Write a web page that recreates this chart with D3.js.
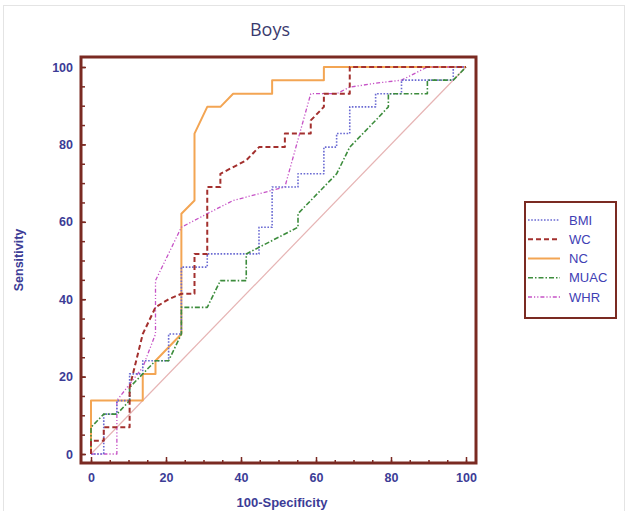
<!DOCTYPE html>
<html lang="en">
  <head>
    <meta charset="utf-8">
    <title>Boys ROC</title>
    <style>
      body { margin: 0; background: #fff; }
      svg { display: block; }
      .tick text { font-family: Arial, "Liberation Sans", sans-serif; font-weight: bold; font-size: 12.5px; fill: #3c3c96; }
      .tick line { stroke: #7a2a22; stroke-width: 1.5; }
    </style>
  </head>
  <body>
    <script src="https://d3js.org/d3.v7.min.js"></script>
    <script>
      // ROC points: 100-Specificity (x) and Sensitivity (y)
      const seriesNames = ["BMI", "WC", "NC", "MUAC", "WHR"];

      const bmiX = [0, 3.4, 3.4, 6.9, 6.9, 10.3, 10.3, 13.8, 13.8, 20.7, 20.7, 24.1, 24.1, 31, 31, 44.8, 44.8, 48.3, 48.3, 55.2, 55.2, 62.1, 62.1, 65.5, 65.5, 69, 69, 75.9, 75.9, 82.8, 82.8, 96.6, 96.6, 100];
      const bmiY = [0, 0, 10.3, 10.3, 13.8, 13.8, 20.7, 20.7, 24.1, 24.1, 31, 31, 48.3, 48.3, 51.7, 51.7, 58.6, 58.6, 69, 69, 72.4, 72.4, 79.3, 79.3, 82.8, 82.8, 89.7, 89.7, 93.1, 93.1, 96.6, 96.6, 100, 100];

      const wcX = [0, 0, 3.4, 3.4, 10.3, 10.3, 13.8, 17.2, 20.7, 24.1, 27.6, 27.6, 31, 31, 34.5, 34.5, 41.4, 44.8, 51.7, 51.7, 58.6, 58.6, 62.1, 62.1, 69, 69, 100];
      const wcY = [0, 3.4, 3.4, 6.9, 6.9, 17.2, 31, 37.9, 40, 41.4, 41.4, 51.7, 51.7, 69, 69, 72.4, 75.9, 79.3, 79.3, 82.8, 82.8, 86.2, 89.7, 93.1, 93.1, 100, 100];

      const ncX = [0, 0, 13.8, 13.8, 17.2, 17.2, 24.1, 24.1, 27.6, 27.6, 31, 34.5, 37.9, 48.3, 48.3, 62.1, 62.1, 100];
      const ncY = [0, 13.8, 13.8, 20.7, 20.7, 24.1, 31, 62.1, 65.5, 82.8, 89.7, 89.7, 93.1, 93.1, 96.6, 96.6, 100, 100];

      const muacX = [0, 0, 3.4, 6.9, 10.3, 10.3, 13.8, 17.2, 20.7, 24.1, 24.1, 31, 34.5, 41.4, 41.4, 44.8, 55.2, 55.2, 62.1, 65.5, 69, 75.9, 79.3, 79.3, 89.7, 89.7, 96.6, 100];
      const muacY = [0, 6.9, 10.3, 10.3, 13.8, 17.2, 20.7, 24.1, 24.1, 31, 37.9, 37.9, 44.8, 44.8, 51.7, 53.4, 58.6, 62.1, 69, 72.4, 79.3, 86.2, 89.7, 93.1, 93.1, 96.6, 96.6, 100];

      const whrX = [0, 6.9, 6.9, 13.8, 17.2, 17.2, 24.1, 31, 37.9, 51.7, 58.6, 65.5, 69, 75.9, 82.8, 89.7, 100];
      const whrY = [0, 0, 13.8, 22.4, 31, 44.8, 58.6, 62.1, 65.5, 69, 93.1, 93.1, 94.8, 95.8, 96.6, 100, 100];

      const refX = [0, 100];
      const refY = [0, 100];

      const xTicks = [0, 20, 40, 60, 80, 100];
      const yTicks = [0, 20, 40, 60, 80, 100];

      const w = 628, h = 511;
      const frame = { left: 81, top: 57, right: 476, bottom: 463 };

      const xScale = d3.scaleLinear().domain([0, 100]).range([91, 466]);
      const yScale = d3.scaleLinear().domain([0, 100]).range([454, 67]);

      const svg = d3.select("body").append("svg")
        .attr("width", w)
        .attr("height", h);

      // faint outer border of the figure
      svg.append("rect")
        .attr("x", 3.5).attr("y", 5.5)
        .attr("width", 621).attr("height", 520)
        .attr("fill", "none")
        .attr("stroke", "#e4e4e4");

      svg.append("text")
        .attr("x", 270).attr("y", 36)
        .attr("text-anchor", "middle")
        .attr("font-family", "'Open Sans', sans-serif")
        .attr("font-size", 18)
        .attr("fill", "#3a3a6e")
        .text("Boys");

      // reference diagonal
      svg.append("line")
        .attr("x1", xScale(refX[0])).attr("y1", yScale(refY[0]))
        .attr("x2", xScale(refX[1])).attr("y2", yScale(refY[1]))
        .attr("stroke", "#e6b4b4")
        .attr("stroke-width", 1.2);

      const styles = {
        BMI:  { x: bmiX,  y: bmiY,  color: "#6a6ad2", width: 1.6, dash: "1.6,1.6" },
        WC:   { x: wcX,   y: wcY,   color: "#a3302e", width: 2,   dash: "5,3" },
        NC:   { x: ncX,   y: ncY,   color: "#f3a553", width: 2,   dash: null },
        MUAC: { x: muacX, y: muacY, color: "#3c8c3c", width: 1.6, dash: "5,2,1.5,2" },
        WHR:  { x: whrX,  y: whrY,  color: "#c653c6", width: 1.3, dash: "4,2,1.2,2,1.2,2" }
      };

      const line = d3.line()
        .x(d => xScale(d[0]))
        .y(d => yScale(d[1]));

      // draw order: orange underneath so dashed lines stay visible
      ["NC", "WHR", "BMI", "MUAC", "WC"].forEach(name => {
        const s = styles[name];
        const pts = s.x.map((v, i) => [v, s.y[i]]);
        svg.append("path")
          .datum(pts)
          .attr("d", line)
          .attr("fill", "none")
          .attr("stroke", s.color)
          .attr("stroke-width", s.width)
          .attr("stroke-dasharray", s.dash)
          .attr("stroke-linejoin", "round");
      });

      // minor ticks every 5
      const minor = d3.range(0, 101, 5);
      svg.append("g")
        .attr("transform", `translate(0, ${frame.bottom})`)
        .call(d3.axisBottom(xScale).tickValues(minor).tickSize(-3).tickFormat(""))
        .call(g => g.select(".domain").remove());
      svg.append("g")
        .attr("transform", `translate(${frame.left}, 0)`)
        .call(d3.axisLeft(yScale).tickValues(minor).tickSize(-4).tickFormat(""))
        .call(g => g.select(".domain").remove());

      // major ticks with labels
      svg.append("g")
        .attr("transform", `translate(0, ${frame.bottom})`)
        .call(d3.axisBottom(xScale).tickValues(xTicks).tickSize(-6).tickPadding(10))
        .call(g => g.select(".domain").remove());
      svg.append("g")
        .attr("transform", `translate(${frame.left}, 0)`)
        .call(d3.axisLeft(yScale).tickValues(yTicks).tickSize(-5).tickPadding(8))
        .call(g => g.select(".domain").remove());

      // frame
      svg.append("rect")
        .attr("x", frame.left).attr("y", frame.top)
        .attr("width", frame.right - frame.left)
        .attr("height", frame.bottom - frame.top)
        .attr("fill", "none")
        .attr("stroke", "#7a2a22")
        .attr("stroke-width", 3);

      // axis titles
      svg.append("text")
        .attr("transform", "translate(23, 260) rotate(-90)")
        .attr("text-anchor", "middle")
        .attr("font-family", "Arial, 'Liberation Sans', sans-serif")
        .attr("font-weight", "bold")
        .attr("font-size", 12.5)
        .attr("fill", "#3c3c96")
        .text("Sensitivity");

      svg.append("text")
        .attr("x", 282).attr("y", 507)
        .attr("text-anchor", "middle")
        .attr("font-family", "Arial, 'Liberation Sans', sans-serif")
        .attr("font-weight", "bold")
        .attr("font-size", 13)
        .attr("fill", "#3c3c96")
        .text("100-Specificity");

      // legend
      const legend = svg.append("g");
      legend.append("rect")
        .attr("x", 525).attr("y", 202)
        .attr("width", 91).attr("height", 116)
        .attr("fill", "#fff")
        .attr("stroke", "#7a2a22")
        .attr("stroke-width", 2);

      const legendY = d3.scalePoint().domain(seriesNames).range([220, 297]);

      seriesNames.forEach(name => {
        const s = styles[name];
        const yy = legendY(name);
        legend.append("line")
          .attr("x1", 528).attr("x2", 560)
          .attr("y1", yy).attr("y2", yy)
          .attr("stroke", s.color)
          .attr("stroke-width", s.width)
          .attr("stroke-dasharray", s.dash);
        legend.append("text")
          .attr("x", 569).attr("y", yy + 4.5)
          .attr("font-family", "Arial, 'Liberation Sans', sans-serif")
          .attr("font-size", 13)
          .attr("fill", "#4040b4")
          .text(name);
      });
    </script>
  </body>
</html>
